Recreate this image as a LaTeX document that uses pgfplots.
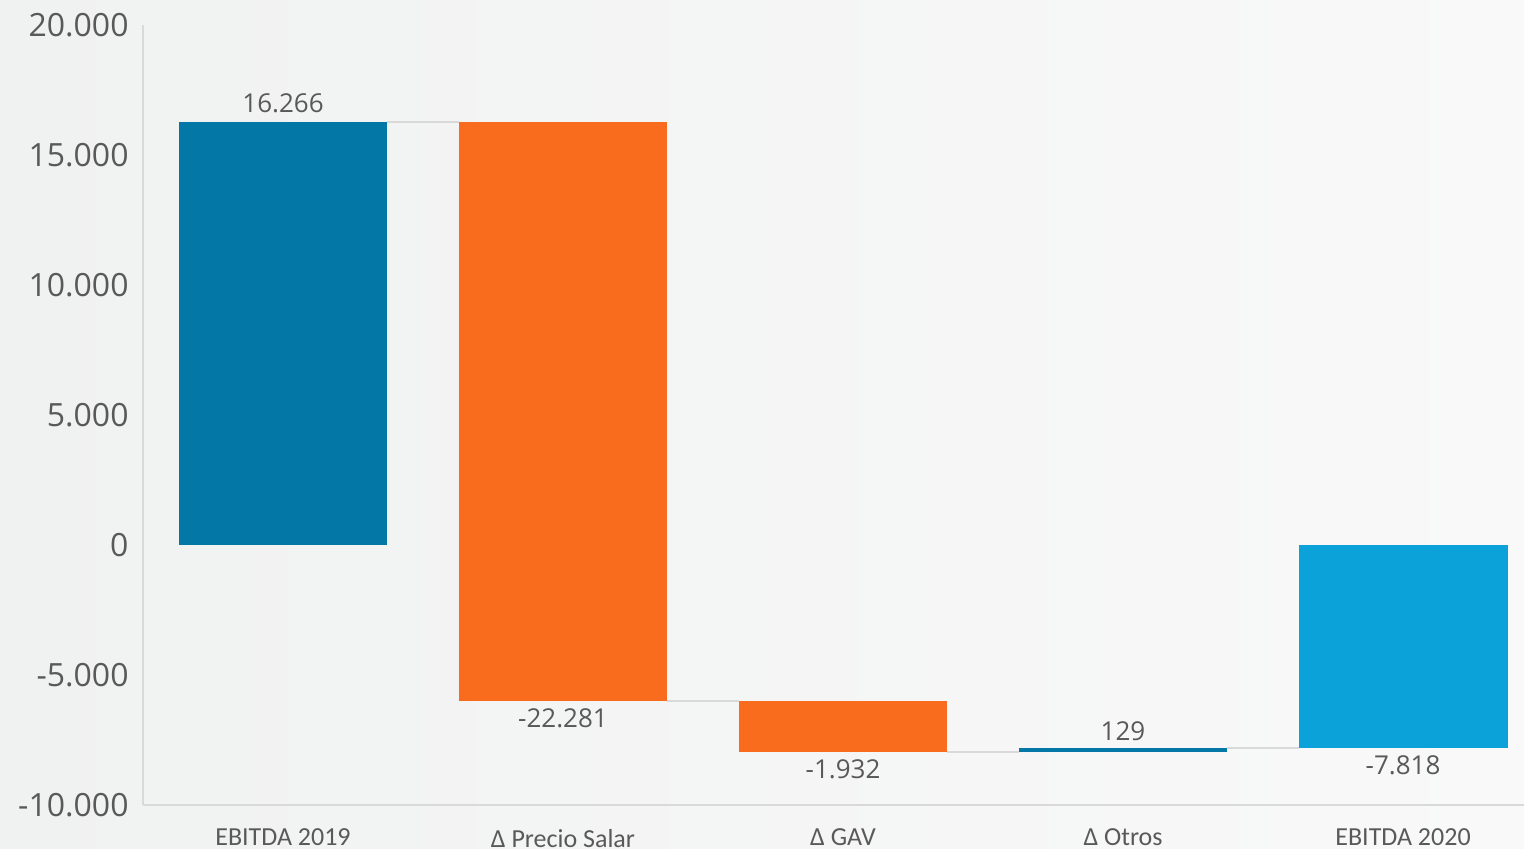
\documentclass[border=0pt]{standalone}
\usepackage{pgfplots}
\pgfplotsset{compat=1.18}
\usepackage{fontspec}
\setmainfont{Open Sans}
\newfontfamily\calfont{Carlito}
\definecolor{dblue}{HTML}{0377A6}
\definecolor{orng}{HTML}{F96B1D}
\definecolor{lblue}{HTML}{0AA2D9}
\definecolor{txt}{HTML}{595959}
\definecolor{axl}{HTML}{D9D9D9}
\definecolor{bgl}{HTML}{F0F1F1}
\definecolor{bgr}{HTML}{F9F9F9}
\begin{document}
\begin{tikzpicture}
\shade[left color=bgl, right color=bgr] (-71.5pt,-22pt) rectangle (690.5pt,402.5pt);
\begin{axis}[
  at={(0,0)}, anchor=south west,
  scale only axis, width=690.5pt, height=390pt,
  xmin=-0.5, xmax=4.432, ymin=-10000, ymax=20000,
  axis lines=left,
  axis line style={draw=axl, line width=1pt, -},
  major tick length=0pt,
  ytick={-10000,-5000,0,5000,10000,15000,20000},
  xtick={0,1,2,3,4},
  xticklabels={EBITDA 2019, Δ Precio Salar, Δ GAV, Δ Otros, EBITDA 2020},
  scaled y ticks=false,
  yticklabel style={/pgf/number format/.cd, 1000 sep={.}, assume math mode=true, /tikz/.cd,
    font=\fontsize{16}{18}\selectfont, text=txt, xshift=-3.7pt},
  xticklabel style={font=\calfont\fontsize{13}{15}\selectfont, text=txt, yshift=-8.5pt},
  clip=false,
]
% bars
\addplot[fill=dblue, draw=none] coordinates {(-0.373,0) (0.373,0) (0.373,16266) (-0.373,16266)};
\addplot[fill=orng, draw=none] coordinates {(0.627,16266) (1.373,16266) (1.373,-6015) (0.627,-6015)};
\addplot[fill=orng, draw=none] coordinates {(1.627,-6015) (2.373,-6015) (2.373,-7947) (1.627,-7947)};
\addplot[fill=dblue, draw=none] coordinates {(2.627,-7947) (3.373,-7947) (3.373,-7818) (2.627,-7818)};
\addplot[fill=lblue, draw=none] coordinates {(3.627,0) (4.373,0) (4.373,-7818) (3.627,-7818)};
% connectors
\addplot[axl, line width=1pt] coordinates {(0.373,16266) (0.627,16266)};
\addplot[axl, line width=1pt] coordinates {(1.373,-6015) (1.627,-6015)};
\addplot[axl, line width=1pt] coordinates {(2.373,-7947) (2.627,-7947)};
\addplot[axl, line width=1pt] coordinates {(3.373,-7818) (3.627,-7818)};
% labels
\addplot[draw=none, nodes near coords, point meta=explicit symbolic,
  nodes near coords style={anchor=center, font=\fontsize{13}{15}\selectfont, text=txt}]
  table[meta=l] {
x y l
0 17000 16.266
1 -6654 -22.281
2 -8615 -1.932
3 -7154 129
4 -8462 -7.818
};
\end{axis}
\pgfresetboundingbox
\path[use as bounding box] (-71.5pt,-22pt) rectangle (690.5pt,402.5pt);
\end{tikzpicture}
\end{document}
